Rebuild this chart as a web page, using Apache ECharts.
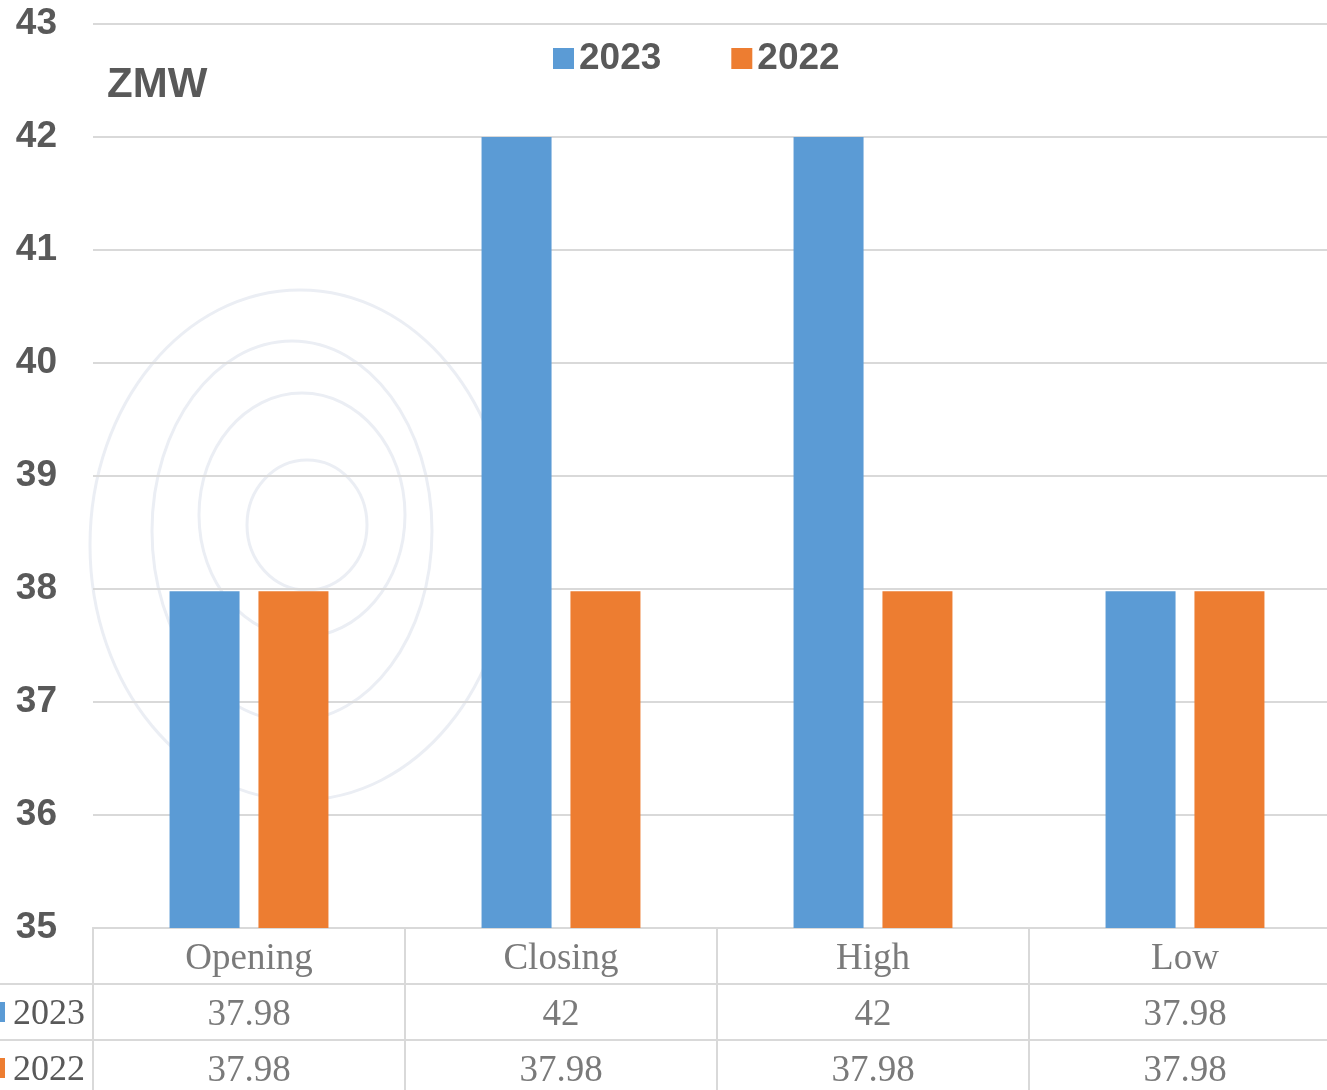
<!DOCTYPE html>
<html>
<head>
<meta charset="utf-8">
<script src="https://cdn.jsdelivr.net/npm/echarts@6/dist/echarts.min.js"></script>
<style>
  html, body { margin: 0; padding: 0; background: #fff; }
  #chart { width: 1327px; height: 1090px; }
</style>
</head>
<body>
<div id="chart"></div>
<script>
// data
var categories = ['Opening', 'Closing', 'High', 'Low'];
var seriesNames = ['2023', '2022'];
var values2023 = [37.98, 42, 42, 37.98];
var values2022 = [37.98, 37.98, 37.98, 37.98];
var yTicks = [35, 36, 37, 38, 39, 40, 41, 42, 43];

var colors = ['#5B9BD5', '#ED7D31'];
var textColor = '#595959';
var lineColor = '#d9d9d9';

// layout
var GRID_LEFT = 93, GRID_TOP = 24, GRID_W = 1248, GRID_H = 904;
var ROW_H = 56;
var TABLE_TOP = GRID_TOP + GRID_H;

var chartDom = document.getElementById('chart');
var myChart = echarts.init(chartDom, null, { renderer: 'canvas', devicePixelRatio: 1 });

// table cells: [category, row, text]
var cells = [];
categories.forEach(function (c, i) {
  cells.push([c, '', c]);
  cells.push([c, seriesNames[0], String(values2023[i])]);
  cells.push([c, seriesNames[1], String(values2022[i])]);
});

// faint contour decoration behind the chart
var contours = [
  [307, 525, 60, 65], [302, 515, 103, 122], [292, 531, 140, 190], [300, 545, 210, 255]
].map(function (e) {
  return {
    type: 'ellipse', z: -10, silent: true,
    shape: { cx: e[0], cy: e[1], rx: e[2], ry: e[3] },
    style: { fill: 'none', stroke: '#ebeef4', lineWidth: 3 }
  };
});

var option = {
  backgroundColor: '#fff',
  animation: false,
  graphic: contours.concat([
    {
      type: 'text', left: 107, top: 64,
      style: { text: 'ZMW', font: 'bold 42px "Liberation Sans", Arial, sans-serif', fill: textColor }
    },
    {
      type: 'line', silent: true,
      shape: { x1: 0, y1: TABLE_TOP + ROW_H, x2: GRID_LEFT, y2: TABLE_TOP + ROW_H },
      style: { stroke: lineColor, lineWidth: 2 }
    },
    {
      type: 'line', silent: true,
      shape: { x1: 0, y1: TABLE_TOP + ROW_H * 2, x2: GRID_LEFT, y2: TABLE_TOP + ROW_H * 2 },
      style: { stroke: lineColor, lineWidth: 2 }
    }
  ]),
  legend: {
    data: seriesNames,
    left: 548,
    top: 35,
    itemWidth: 21,
    itemHeight: 21,
    itemGap: 70,
    icon: 'rect',
    textStyle: { fontSize: 37, fontWeight: 'bold', color: textColor, fontFamily: '"Liberation Sans", Arial, sans-serif' }
  },
  grid: [
    { left: GRID_LEFT, top: GRID_TOP, width: GRID_W, height: GRID_H, outerBoundsMode: 'none' },
    { left: GRID_LEFT, top: TABLE_TOP, width: GRID_W, height: ROW_H * 3, outerBoundsMode: 'none' }
  ],
  xAxis: [
    {
      type: 'category', gridIndex: 0, data: categories,
      axisLabel: { show: false },
      axisTick: { show: false },
      axisLine: { show: true, lineStyle: { color: lineColor, width: 2 } }
    },
    {
      type: 'category', gridIndex: 1, data: categories,
      axisLabel: { show: false },
      axisTick: { show: false },
      axisLine: { show: false },
      splitLine: { show: true, interval: 0, lineStyle: { color: lineColor, width: 2 } }
    }
  ],
  yAxis: [
    {
      type: 'value', gridIndex: 0,
      min: yTicks[0], max: yTicks[yTicks.length - 1], interval: 1,
      axisLine: { show: false },
      axisTick: { show: false },
      axisLabel: {
        margin: 36, color: textColor, fontSize: 37, fontWeight: 'bold',
        fontFamily: '"Liberation Sans", Arial, sans-serif'
      },
      splitLine: { lineStyle: { color: lineColor, width: 2 } }
    },
    {
      type: 'category', gridIndex: 1, inverse: true,
      data: [''].concat(seriesNames),
      axisTick: { show: false },
      axisLine: { show: true, lineStyle: { color: lineColor, width: 2 } },
      splitLine: { show: true, interval: 0, lineStyle: { color: lineColor, width: 2 } },
      axisLabel: {
        margin: 8,
        interval: 0,
        formatter: function (v) {
          if (v === seriesNames[0]) return '{m0|}{t|' + v + '}';
          if (v === seriesNames[1]) return '{m1|}{t|' + v + '}';
          return '';
        },
        rich: {
          m0: { backgroundColor: colors[0], width: 5, height: 20 },
          m1: { backgroundColor: colors[1], width: 5, height: 20 },
          t: { fontSize: 36, color: textColor, fontFamily: '"Liberation Serif", "DejaVu Serif", serif', padding: [6, 0, 0, 8] }
        }
      }
    }
  ],
  series: [
    {
      name: seriesNames[0], type: 'bar', xAxisIndex: 0, yAxisIndex: 0,
      data: values2023, barWidth: 70, barGap: '27%',
      itemStyle: { color: colors[0] }
    },
    {
      name: seriesNames[1], type: 'bar', xAxisIndex: 0, yAxisIndex: 0,
      data: values2022, barWidth: 70, barGap: '27%',
      itemStyle: { color: colors[1] }
    },
    {
      type: 'scatter', xAxisIndex: 1, yAxisIndex: 1,
      data: cells, symbolSize: 0, silent: true,
      label: {
        show: true, position: 'inside', offset: [0, 3],
        formatter: function (p) { return p.value[2]; },
        fontSize: 37, color: textColor,
        fontFamily: '"Liberation Serif", "DejaVu Serif", serif'
      }
    }
  ]
};

option && myChart.setOption(option);
</script>
</body>
</html>
